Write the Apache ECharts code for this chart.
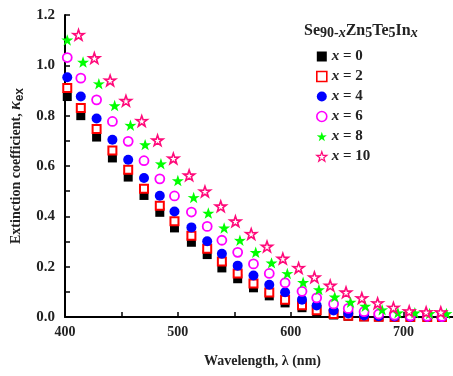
<!DOCTYPE html>
<html>
<head>
<meta charset="utf-8">
<script src="https://cdn.jsdelivr.net/npm/echarts@6/dist/echarts.min.js"></script>
<style>html,body{margin:0;padding:0;background:#fff;overflow:hidden;}#c{width:453px;height:376px;}</style>
</head>
<body>
<div id="c"></div>
<script>
// Wavelength (nm) positions
const lambdaA = [402,414,428,442,456,470,484,497,512,526,539,553,567,581,595,610,623,638,651,665,678,692,706,721,734];
const lambdaG = [402,416,430,444,458,471,485,500,514,527,541,555,569,583,597,611,625,639,653,666,681,695,710,723,738];
const lambdaS = [412,426,440,454,468,482,496,510,524,538,551,565,579,593,607,621,635,649,663,677,691,705,720,733];

// Extinction coefficient values
const k0  = [0.876,0.800,0.715,0.632,0.556,0.483,0.416,0.354,0.297,0.248,0.195,0.152,0.116,0.084,0.056,0.037,0.021,0.008,0.003,0.001,0,0,0,0,0];
const k2  = [0.910,0.830,0.747,0.662,0.585,0.510,0.442,0.380,0.323,0.271,0.221,0.173,0.133,0.097,0.069,0.047,0.027,0.012,0.005,0.002,0.001,0,0,0,0];
const k4  = [0.953,0.876,0.789,0.704,0.625,0.552,0.482,0.419,0.356,0.301,0.251,0.204,0.165,0.128,0.098,0.069,0.046,0.026,0.014,0.006,0.003,0.002,0.001,0.001,0];
const k6  = [1.031,0.949,0.863,0.777,0.698,0.621,0.549,0.481,0.417,0.360,0.305,0.257,0.211,0.173,0.136,0.102,0.076,0.052,0.034,0.021,0.012,0.007,0.004,0.003,0.002];
const k8  = [1.101,1.013,0.927,0.840,0.762,0.685,0.609,0.542,0.475,0.413,0.354,0.305,0.257,0.215,0.173,0.138,0.109,0.080,0.059,0.043,0.029,0.017,0.017,0.014,0.014];
const k10 = [1.121,1.029,0.940,0.859,0.779,0.702,0.630,0.563,0.499,0.440,0.380,0.330,0.280,0.232,0.195,0.158,0.125,0.098,0.075,0.055,0.037,0.023,0.019,0.019];

const seriesNames = ['x = 0','x = 2','x = 4','x = 6','x = 8','x = 10'];
const legendTitle = 'Se{s|90-}{si|x}Zn{s|5}Te{s|5}In{si|x}';

const FONT = '"Liberation Serif","Times New Roman",serif';
const STAR = 'path://M50,0 L61.8,35.1 L97.6,34.5 L69,56.6 L79.4,90.9 L50,70.3 L20.6,90.9 L31,56.6 L2.4,34.5 L38.2,35.1 Z';

function pairs(xs, ys){ return ys.map((y,i)=>[xs[i], y]); }

const styles = [
  {symbol:'rect', size:9, item:{color:'#000000'}},
  {symbol:'rect', size:8, item:{color:'#ffffff', borderColor:'#ff0000', borderWidth:2}},
  {symbol:'circle', size:10, item:{color:'#0000ff'}},
  {symbol:'circle', size:9, item:{color:'#ffffff', borderColor:'#ff00ff', borderWidth:1.8}},
  {symbol:STAR, size:12, item:{color:'#00ff00'}},
  {symbol:STAR, size:11, item:{color:'#ffffff', borderColor:'#ff0a7a', borderWidth:1.6}}
];
const dataSets = [pairs(lambdaA,k0), pairs(lambdaA,k2), pairs(lambdaA,k4), pairs(lambdaA,k6), pairs(lambdaG,k8), pairs(lambdaS,k10)];

const chart = echarts.init(document.getElementById('c'), null, {renderer:'canvas'});
chart.setOption({
  animation:false,
  backgroundColor:'#ffffff',
  grid:{left:65, top:15, height:302, width:395, containLabel:false, outerBoundsMode:'none'},
  xAxis:{
    type:'value', min:400, max:750, interval:50,
    name:'Wavelength, λ (nm)', nameLocation:'middle', nameGap:37,
    nameTextStyle:{fontFamily:FONT, fontWeight:'bold', fontSize:14, color:'#222'},
    axisLine:{show:true, onZero:false, lineStyle:{color:'#000', width:2}},
    axisTick:{show:true, inside:true, length:5, lineStyle:{color:'#000', width:1.5}},
    axisLabel:{fontFamily:FONT, fontWeight:'bold', fontSize:14, color:'#222', margin:8,
      formatter:v => (v % 100 === 0 ? String(v) : '')},
    splitLine:{show:false}
  },
  yAxis:{
    type:'value', min:0, max:1.2, interval:0.2,
    name:'Extinction coefficient, {k|κ}{sub|ex}', nameLocation:'middle', nameGap:34,
    nameTextStyle:{fontFamily:FONT, fontWeight:'bold', fontSize:14, color:'#222',
      rich:{k:{fontFamily:FONT, fontStyle:'italic', fontSize:16, color:'#222'},
            sub:{fontFamily:'"Liberation Sans",Arial,sans-serif', fontSize:12, color:'#222', verticalAlign:'bottom', padding:[6,0,0,0]}}},
    axisLine:{show:true, onZero:false, lineStyle:{color:'#000', width:2}},
    axisTick:{show:true, inside:true, length:5, lineStyle:{color:'#000', width:1.5}},
    minorTick:{show:true, splitNumber:2, length:5, lineStyle:{color:'#000', width:1.5}},
    axisLabel:{fontFamily:FONT, fontWeight:'bold', fontSize:15, color:'#222', margin:10,
      formatter:v => v.toFixed(1)},
    splitLine:{show:false}, minorSplitLine:{show:false}
  },
  legend:{
    orient:'vertical', left:311, top:44, itemWidth:10, itemHeight:10, itemGap:5,
    data:seriesNames.map((n,i)=> i===5 ? {name:n, itemStyle:{borderWidth:1.2}} : (i===1||i===3 ? {name:n, itemStyle:{borderWidth:1.6}} : {name:n})),
    textStyle:{fontFamily:FONT, fontWeight:'bold', fontSize:15, color:'#222',
      rich:{i:{fontFamily:FONT, fontStyle:'italic', fontWeight:'bold', fontSize:15, color:'#222'},
            n:{fontFamily:FONT, fontWeight:'bold', fontSize:15, color:'#222'}}},
    formatter:name => '{i|x}{n|' + name.slice(1) + '}'
  },
  graphic:[{
    type:'text', left:304, top:23,
    style:{text:legendTitle, font:'bold 16px ' + FONT, fill:'#222',
      rich:{s:{font:'bold 14px ' + FONT, fill:'#222', padding:[5,0,0,0]},
            si:{font:'italic bold 14px ' + FONT, fill:'#222', padding:[5,0,0,0]}}}
  }],
  series:dataSets.map((d,i)=>({
    name:seriesNames[i], type:'scatter', data:d,
    symbol:styles[i].symbol, symbolSize:styles[i].size, symbolKeepAspect:true,
    itemStyle:Object.assign({opacity:1}, styles[i].item),
    emphasis:{disabled:true}, z:2+i
  }))
});
</script>
</body>
</html>
